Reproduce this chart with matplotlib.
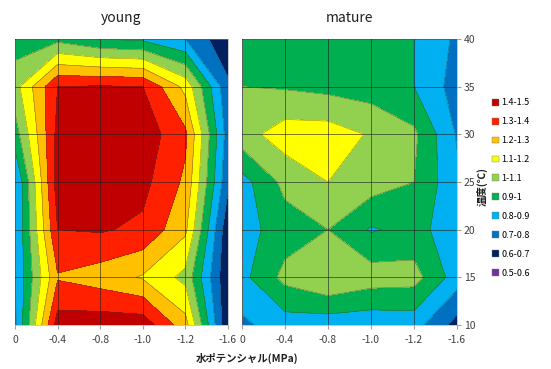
import numpy as np
import matplotlib
matplotlib.use("Agg")
from matplotlib import pyplot as plt
from matplotlib.patches import Patch

plt.rcParams['font.family'] = ['Noto Sans CJK JP', 'DejaVu Sans']

# categories (equally spaced in the chart)
x_labels = ['0', '-0.4', '-0.8', '-1.0', '-1.2', '-1.6']
temps = [10, 15, 20, 25, 30, 35, 40]

# rows = temps (10..40), cols = x_labels
young = [
    [0.78, 1.45, 1.46, 1.46, 1.24, 0.61],
    [0.80, 1.29, 1.25, 1.19, 1.07, 0.61],
    [0.79, 1.40, 1.41, 1.38, 1.22, 0.62],
    [0.79, 1.45, 1.46, 1.43, 1.28, 0.72],
    [0.95, 1.43, 1.47, 1.46, 1.32, 0.75],
    [1.06, 1.40, 1.41, 1.40, 1.17, 0.72],
    [0.95, 0.97, 0.90, 0.88, 0.80, 0.62],
]
mature = [
    [0.78, 0.85, 0.84, 0.83, 0.84, 0.66],
    [0.87, 1.03, 1.10, 1.05, 1.04, 0.85],
    [0.86, 0.95, 1.00, 0.89, 0.93, 0.85],
    [0.86, 1.03, 1.10, 1.05, 1.00, 0.82],
    [1.06, 1.15, 1.15, 1.09, 1.02, 0.79],
    [1.00, 0.99, 0.97, 0.95, 0.90, 0.755],
    [0.95, 0.95, 0.95, 0.95, 0.90, 0.78],
]

levels = [0.5, 0.6, 0.7, 0.8, 0.9, 1.0, 1.1, 1.2, 1.3, 1.4, 1.5]
colors = ['#7030A0', '#002060', '#0070C0', '#00B0F0', '#00B050',
          '#92D050', '#FFFF00', '#FFC000', '#FF2000', '#C00000']
legend_labels = ['0.5-0.6', '0.6-0.7', '0.7-0.8', '0.8-0.9', '0.9-1',
                 '1-1.1', '1.1-1.2', '1.2-1.3', '1.3-1.4', '1.4-1.5']

fig = plt.figure(figsize=(5.51, 3.69), dpi=100)
ax1 = fig.add_axes([15/551, 1-325/369, 213/551, 286/369])
ax2 = fig.add_axes([242/551, 1-325/369, 215/551, 286/369])

xi = np.arange(len(x_labels))
for ax, data, title in [(ax1, young, 'young'), (ax2, mature, 'mature')]:
    z = np.array(data)
    ax.contourf(xi, temps, z, levels=levels, colors=colors)
    ax.contour(xi, temps, z, levels=levels, colors='#404040', linewidths=0.4, alpha=0.6)
    ax.set_xlim(0, 5)
    ax.set_ylim(10, 40)
    ax.set_xticks(xi)
    ax.set_xticklabels(x_labels, fontsize=7.5, color='#404040')
    ax.set_yticks(temps)
    ax.grid(True, color='#202020', lw=0.7, alpha=0.6)
    ax.set_axisbelow(False)
    for s in ax.spines.values():
        s.set_color('#BFBFBF')
        s.set_linewidth(0.6)
    ax.tick_params(axis='x', length=3, color='#A0A0A0', pad=4)
    ax.set_title(title, fontsize=10, pad=12, color='#202020')

ax1.tick_params(axis='y', left=False, labelleft=False)
ax2.yaxis.tick_right()
ax2.tick_params(axis='y', length=3, color='#A0A0A0', labelsize=7.5, labelcolor='#404040', pad=2)

fig.text(247/551, 1-358/369, '水ポテンシャル(MPa)', ha='center', va='center',
         fontsize=7.5, fontweight='bold', color='#202020')
fig.text(482/551, 1-186/369, '温度(℃)', ha='center', va='center', rotation=90,
         fontsize=7.5, fontweight='bold', color='#202020')

handles = [Patch(facecolor=c, edgecolor='#808080', lw=0.3) for c in colors[::-1]]
fig.legend(handles, legend_labels[::-1], loc='center left', bbox_to_anchor=(488/551, 1-188/369),
           frameon=False, fontsize=6.5, handlelength=0.8, handleheight=0.8,
           handletextpad=0.3, labelspacing=1.1, borderaxespad=0)

fig.savefig('out.png', dpi=100)
